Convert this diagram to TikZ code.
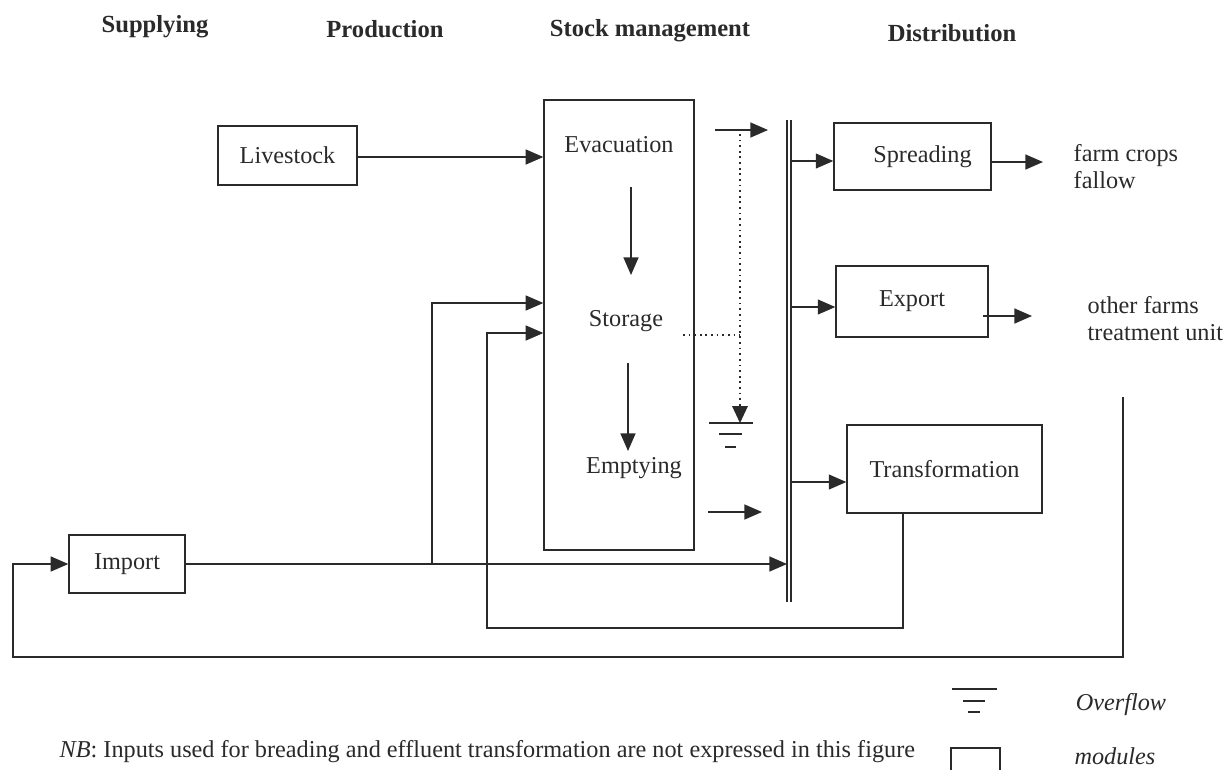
\documentclass[tikz,border=0pt]{standalone}
\usepackage{fontspec}
\setmainfont{Liberation Serif}
\usetikzlibrary{arrows.meta,calc}
\definecolor{ink}{HTML}{2A2A2A}
\begin{document}
\begin{tikzpicture}[x=0.02cm,y=-0.02cm,line width=0.8pt,color=ink,
  arr/.style={-{Triangle[length=10pt,width=8.5pt]}},
  box/.style={draw,rectangle,inner sep=0pt,font=\fontsize{13.8}{16}\selectfont},
  lbl/.style={inner sep=0pt,font=\fontsize{13.8}{15.4}\selectfont},
  hdr/.style={inner sep=0pt,font=\fontsize{14}{16}\selectfont\bfseries},
  dotline/.style={line width=1pt,dash pattern=on 1pt off 2.2pt}]
\useasboundingbox[fill=white] (0,0) rectangle (1231,769);

% headers
\node[hdr] (h1) at (155,27) {Supplying};
\node[hdr] (h2) at (385,29) {Production};
\node[hdr] (h3) at (650,31) {Stock management};
\node[hdr] (h4) at (952,33) {Distribution};

% boxes
\node[box,minimum width=2.78cm,minimum height=1.18cm] (live) at (287.5,155.5) {Livestock};
\node[box,minimum width=3.0cm,minimum height=9.0cm] (stock) at (619,325) {};
\node[lbl] (evac) at (619,145) {Evacuation};
\node[lbl] (stor) at (626,321) {Storage};
\node[lbl] (empt) at (634,468) {Emptying};
\node[box,minimum width=3.14cm,minimum height=1.34cm] (spread) at (912.5,156.5) {\hspace*{0.4cm}Spreading};
\node[box,minimum width=3.04cm,minimum height=1.42cm] (export) at (912,301.5) {Export};
\node[box,minimum width=3.9cm,minimum height=1.76cm] (transf) at (944.5,469) {Transformation};
\node[box,minimum width=2.32cm,minimum height=1.16cm] (import) at (127,564) {Import};

% outputs
\node[lbl,anchor=west,align=left] (out1) at (1073,166.5) {farm crops\\fallow};
\node[lbl,anchor=west,align=left] (out2) at (1087,318.5) {other farms\\treatment unit};

% double line (collector)
\coordinate (dA) at (787,120);
\coordinate (dB) at (787,602);
\coordinate (dA2) at (791,120);
\coordinate (dB2) at (791,602);
\draw (dA) -- (dB);
\draw (dA2) -- (dB2);

% internal stock flows
\coordinate (e1) at (631,187); \coordinate (e2) at (631,275);
\coordinate (s1) at (628,363); \coordinate (s2) at (628,451);
\draw[arr] (e1) -- (e2);
\draw[arr] (s1) -- (s2);

% livestock to stock
\draw[arr] (live.east |- 0,157) -- (stock.west |- 0,157);

% outgoing short arrows from stock
\coordinate (o1) at (715,130); \coordinate (o1e) at (768,130);
\coordinate (o2) at (708,512); \coordinate (o2e) at (762,512);
\draw[arr] (o1) -- (o1e);
\draw[arr] (o2) -- (o2e);

% overflow (dotted)
\coordinate (ov0) at (740,134);
\coordinate (ovj) at (740,335);
\coordinate (ovs) at (740,408);
\coordinate (ov1) at (740,423);
\draw[dotline] (683,335) -- (ovj);
\draw[dotline] (ov0) -- (ovj) -- (ovs);
\fill (ov1) -- ++(-8,-17) -- ++(16,0) -- cycle;
\draw (709,423) -- (753,423);
\draw (719,434) -- (742,434);
\draw (725,447) -- (736,447);

% collector to distribution
\draw[arr] (dA2 |- 0,161) -- (spread.west |- 0,161);
\draw[arr] (dA2 |- 0,307) -- (export.west |- 0,307);
\draw[arr] (dA2 |- 0,482) -- (transf.west |- 0,482);

% distribution outputs
\draw[arr] (spread.east |- 0,162) -- (1043,162);
\draw[arr] ([xshift=-3]export.east |- 0,316) -- (1032,316);

% import flows
\coordinate (b1) at (432,564);
\draw[arr] (import.east) -- (import.east -| dB);
\draw[arr] (b1) -- (432,303) -- (stock.west |- 0,303);

% transformation return loop
\coordinate (t1) at (903,628);
\coordinate (t2) at (487,628);
\draw[arr] (transf.south -| t1) -- (t1) -- (t2) -- (487,333) -- (stock.west |- 0,333);

% big return loop to import
\coordinate (L0) at (1123,397);
\coordinate (L1) at (1123,657);
\coordinate (L2) at (13,657);
\draw[arr] (L0) -- (L1) -- (L2) -- (L2 |- import.west) -- (import.west);

% legend
\draw (952,689) -- (997,689);
\draw (963,701) -- (985,701);
\draw (968,712) -- (980,712);
\node[lbl,font=\fontsize{13.8}{16}\selectfont\itshape] (lgo) at (1121,705) {Overflow};
\draw (951,772) -- (951,748) -- (1000,748) -- (1000,772);
\node[lbl,font=\fontsize{13.8}{16}\selectfont\itshape] (lgm) at (1115,756) {modules};
\node[lbl,anchor=west] (nb) at (59,752) {\textit{NB}: Inputs used for breading and effluent transformation are not expressed in this figure};
\end{tikzpicture}
\end{document}
